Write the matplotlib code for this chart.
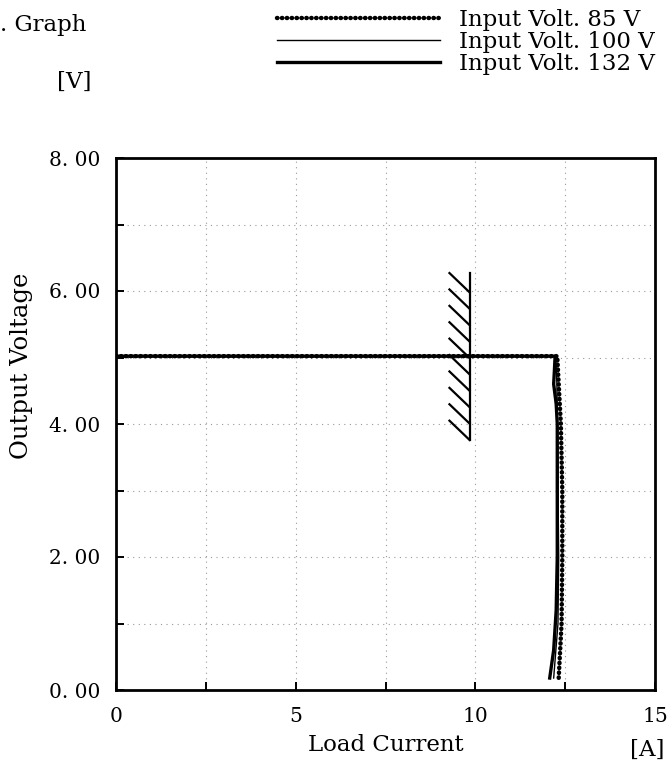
import numpy as np
import matplotlib.pyplot as plt
from matplotlib.ticker import FixedLocator, FixedFormatter

# --- Data ---
series_labels = ["Input Volt. 85 V", "Input Volt. 100 V", "Input Volt. 132 V"]

current_85 = [0.0, 12.28, 12.32, 12.38, 12.42, 12.42, 12.40, 12.32]
voltage_85 = [5.02, 5.02, 4.60, 4.00, 3.00, 2.00, 1.00, 0.18]

current_100 = [0.0, 12.24, 12.27, 12.28, 12.30, 12.32, 12.30, 12.18]
voltage_100 = [5.02, 5.02, 4.60, 4.20, 3.00, 2.00, 1.00, 0.18]

current_132 = [0.0, 12.22, 12.20, 12.18, 12.25, 12.28, 12.28, 12.28, 12.25, 12.18, 12.07]
voltage_132 = [5.02, 5.02, 4.80, 4.60, 4.30, 4.00, 3.00, 2.00, 1.20, 0.60, 0.18]

# rated current limit marker
limit_current = 9.84
limit_v_range = [3.76, 6.27]
hatch_count = 10

x_ticks = [0, 2.5, 5, 7.5, 10, 12.5, 15]
x_tick_labels = ["0", "", "5", "", "10", "", "15"]
y_ticks = [0, 1, 2, 3, 4, 5, 6, 7, 8]
y_tick_labels = ["0. 00", "", "2. 00", "", "4. 00", "", "6. 00", "", "8. 00"]

# --- Style ---
plt.rcParams['font.family'] = ["DejaVu Serif"]
FS_TICK = 14.5
FS_XLAB = 16.5
FS_YLAB = 17.5
FS_LEG = 16.5
FS_NOTE = 16.5

W, H = 672, 763
fig = plt.figure(figsize=(W / 100, H / 100), dpi=100)
ax = fig.add_axes([116 / W, 1 - 690 / H, 539 / W, 532 / H])

# 85 V: beaded (chain of dots) line
l85, = ax.plot(current_85, voltage_85, color="black", lw=3.2,
               linestyle=(0, (0.1, 1.0)), dash_capstyle="round")
l100, = ax.plot(current_100, voltage_100, color="black", lw=1.0)
l132, = ax.plot(current_132, voltage_132, color="black", lw=2.4)

# limit marker: vertical bar with hatching on the left
ax.plot([limit_current, limit_current], limit_v_range, color="black", lw=1.6)
hatch_ends = np.linspace(limit_v_range[1] - 0.29, limit_v_range[0], hatch_count)
for v in hatch_ends:
    ax.plot([limit_current - 0.56, limit_current], [v + 0.29, v],
            color="black", lw=1.6)

ax.set_xlim(0, 15)
ax.set_ylim(0, 8)
ax.xaxis.set_major_locator(FixedLocator(x_ticks))
ax.xaxis.set_major_formatter(FixedFormatter(x_tick_labels))
ax.yaxis.set_major_locator(FixedLocator(y_ticks))
ax.yaxis.set_major_formatter(FixedFormatter(y_tick_labels))
ax.tick_params(direction="in", length=6, width=1.4, labelsize=FS_TICK)
ax.tick_params(axis="x", pad=12)
ax.tick_params(axis="y", pad=11)
ax.grid(True, color="0.6", lw=0.8, linestyle=(0, (1, 4)))
for sp in ax.spines.values():
    sp.set_linewidth(2.0)

ax.set_xlabel("Load Current", fontsize=FS_XLAB)
ax.xaxis.set_label_coords(0.5, -0.083)
ax.set_ylabel("Output Voltage", fontsize=FS_YLAB, va="center")
ax.yaxis.set_label_coords(-0.175, 0.61)

fig.text(0, 1 - 25 / H, ". Graph", fontsize=FS_NOTE, ha="left", va="center")
fig.text(74 / W, 1 - 82 / H, "[V]", fontsize=FS_NOTE, ha="center", va="center")
fig.text(647 / W, 1 - 750 / H, "[A]", fontsize=FS_NOTE, ha="center", va="center")

ax.legend([l85, l100, l132], series_labels, loc="upper left",
          bbox_to_anchor=(277 / W, 1 - 9 / H), bbox_transform=fig.transFigure,
          frameon=False, fontsize=FS_LEG, handlelength=7.1, handletextpad=0.85,
          labelspacing=0.0, borderpad=0, borderaxespad=0)

fig.savefig("out.png", dpi=100)
